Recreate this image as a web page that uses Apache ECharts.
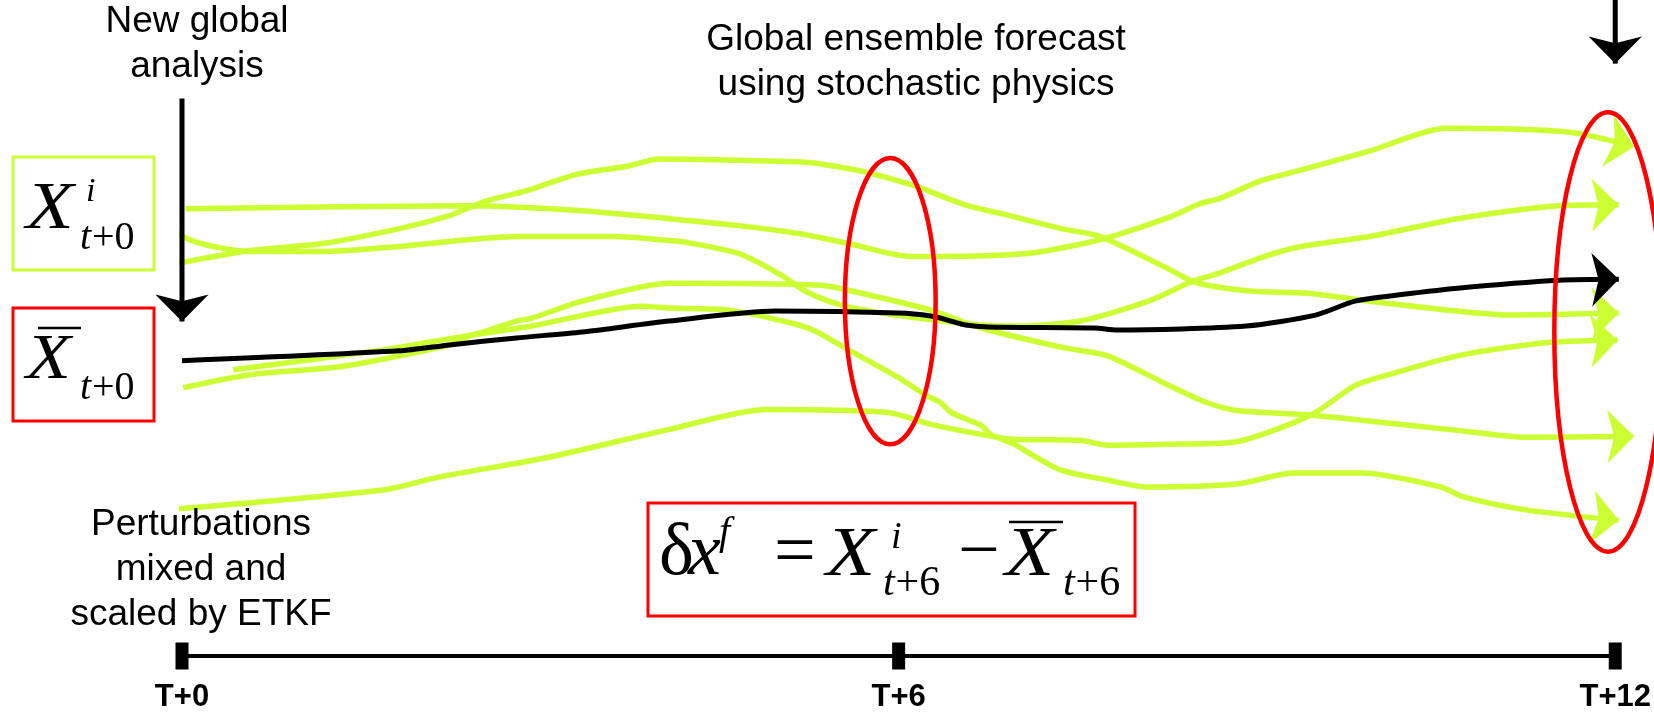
<!DOCTYPE html>
<html>
<head>
<meta charset="utf-8">
<script src="https://cdn.jsdelivr.net/npm/echarts@6/dist/echarts.min.js"></script>
<style>html,body{margin:0;padding:0;background:#fff;}#c{width:1654px;height:713px;}</style>
</head>
<body>
<div id="c"></div>
<script>
// ---- data: forecast hour (x) and arbitrary state value (y) ----
const tickHours = [0, 6, 12];
const tickLabels = ['T+0', 'T+6', 'T+12'];

const ensembleMean = [[0,47.4],[1.82,49.4],[2.24,50.6],[2.80,52.0],[3.35,53.2],[4.08,55.4],[4.97,57.4],[6.00,57.0],[6.27,56.4],[6.41,55.6],[6.56,54.6],[6.75,54.2],[7.64,54.0],[7.83,53.6],[8.91,54.4],[9.49,56.6],[9.82,59.4],[10.10,60.4],[10.68,62.0],[11.53,63.6],[12.03,63.8]];

const member1 = [[0.03,78],[2.41,78.6],[3.35,77.6],[4.08,76],[4.66,74.6],[5.16,73],[5.58,71],[6.10,68.4],[6.35,68.4],[7.08,69],[7.47,70.6],[7.81,72.6],[8.28,76.4],[8.52,79],[8.68,80],[9.03,83.6],[9.31,85.4],[9.94,89.6],[10.59,94.2],[11.62,93.4],[12.16,90.5]];

const member2 = [[-0.13,74.6],[0.04,72],[0.26,70.4],[0.57,69.4],[1.18,69.4],[1.82,70.4],[2.80,72.4],[3.63,72.4],[4.08,71.6],[4.18,71.4],[4.66,69],[5.02,64.6],[5.22,61.4],[5.52,58.6],[5.86,57],[6.30,55.6],[6.69,54.6],[6.97,54.4],[7.52,55.4],[8.09,59.4],[8.46,63.4],[8.68,65],[9.09,68.6],[9.37,70.4],[9.94,72.4],[10.68,76],[11.53,78.6],[12.03,78.8]];

const member3 = [[-0.13,66.6],[0.57,69.6],[1.18,71],[1.82,74],[2.24,76.6],[2.38,78],[2.55,79.6],[2.88,81.6],[3.32,85],[3.74,86.6],[3.99,88],[5.19,87.4],[5.35,87],[5.72,85.4],[6.14,82.6],[6.27,81.4],[6.58,78.6],[6.86,77],[7.36,74],[7.69,72.4],[8.25,66],[8.46,63.4],[8.63,62.4],[8.97,61.4],[9.43,61],[9.88,59.6],[10.68,57.4],[11.11,56.6],[12.03,57]];

const member4 = [[0.43,45.6],[1.68,49.6],[2.38,52.4],[2.93,54.4],[3.85,58.4],[4.08,58],[4.58,57.6],[5.10,55],[5.30,53.4],[5.58,49.6],[6.00,44],[6.22,40.6],[6.35,39],[6.44,37],[6.69,34.4],[6.77,32.6],[6.97,30.6],[7.08,29],[7.36,25.4],[7.75,23.4],[8.09,22],[8.83,22.6],[9.31,24.8],[9.88,24.8],[10.54,22],[10.73,20],[11.25,17.4],[12.03,15.3]];

const member5 = [[0.01,42],[0.57,44.6],[1.32,46.2],[1.82,48.4],[2.24,50.6],[2.41,52.4],[2.55,53.4],[2.80,55.4],[2.93,56],[3.35,59.4],[4.08,63],[5.35,62.6],[5.58,61.6],[6.27,57.6],[6.69,54],[7.39,50],[7.75,48.4],[8.25,42.6],[8.58,39],[8.83,37.4],[9.39,36.6],[9.82,35.6],[10.68,33.4],[11.25,32],[12.16,32.2]];

const member6 = [[-0.13,17.4],[1.68,21.4],[2.15,24],[3.07,28],[4.08,33.6],[4.89,37.6],[5.91,37],[6.27,34.6],[6.69,32.6],[6.97,31.6],[7.52,31.4],[7.75,30.4],[8.25,30.6],[8.80,31],[9.14,33.4],[9.49,37],[9.82,42.4],[10.10,44.6],[10.68,48.4],[11.39,51],[12.02,51.6]];

const analysisArrow = [[0,100.2],[0,55.3]];
const nextAnalysisArrow = [[12,121],[12,107.2]];

const ellipseCenters = [[5.93,59.4],[11.94,53.2]];
const ellipseRadii = [[0.38,28.8],[0.45,44.2]];

// ---- layout ----
const W = 1654, H = 713;
const gridLeft = 182, gridRight = 35, gridTop = 0, gridBottom = 53;
const xMin = 0, xMax = 12, yMin = -12, yMax = 120;
const pxPerX = (W - gridLeft - gridRight) / (xMax - xMin);
const pxPerY = (H - gridTop - gridBottom) / (yMax - yMin);

const GREEN = '#ccff33', RED = '#ff0000', BLACK = '#000000';

function arrowRotate(data) {
  const a = data[data.length - 2], b = data[data.length - 1];
  const ang = Math.atan2((b[1] - a[1]) * pxPerY, (b[0] - a[0]) * pxPerX) * 180 / Math.PI;
  return ang - 90;
}

function arrowSeries(data, color, z, smooth, width) {
  const last = data.length - 1;
  const rot = arrowRotate(data);
  return {
    type: 'line', data: data, smooth: smooth, clip: false, z: z,
    animation: false, silent: true,
    lineStyle: { color: color, width: width },
    itemStyle: { color: color, opacity: 1 },
    showSymbol: true, showAllSymbol: true,
    symbol: function (v, p) { return p.dataIndex === last ? 'arrow' : 'none'; },
    symbolSize: [40, 27],
    symbolRotate: rot
  };
}

const SANS = '"Liberation Sans", Arial, sans-serif';
const SERIF = '"Liberation Serif", "Times New Roman", serif';

function txt(str, x, baseline, size, opts) {
  opts = opts || {};
  const family = opts.family || SANS;
  const style = opts.italic ? 'italic ' : '';
  const weight = opts.bold ? 'bold ' : '';
  const k = family === SANS ? 0.3465 : 0.3375;
  return {
    type: 'text', x: x, y: baseline - k * size, silent: true, z: 20,
    scaleX: opts.scaleX || 1,
    style: {
      text: str, fill: '#000',
      font: style + weight + size + 'px ' + family,
      align: opts.align || 'left', textAlign: opts.align || 'left',
      verticalAlign: 'middle', textVerticalAlign: 'middle'
    }
  };
}
function sub(x, baseline, size, digits) {
  // italic t followed by upright "+digit"
  return [
    txt('t', x, baseline, size, { family: SERIF, italic: true }),
    txt('+' + digits, x + size * 0.3, baseline, size, { family: SERIF })
  ];
}
function box(x, y, w, h, color) {
  return { type: 'rect', z: 15, silent: true, shape: { x: x, y: y, width: w, height: h }, style: { fill: '#fff', stroke: color, lineWidth: 3 } };
}
function bar(x1, x2, y) {
  return { type: 'line', z: 20, silent: true, shape: { x1: x1, y1: y, x2: x2, y2: y }, style: { stroke: '#000', lineWidth: 2.5 } };
}

const graphics = [
  // labels
  txt('New global', 197, 35, 37, { align: 'center' }),
  txt('analysis', 197, 80, 37, { align: 'center' }),
  txt('Global ensemble forecast', 916, 53, 37, { align: 'center' }),
  txt('using stochastic physics', 916, 98, 37, { align: 'center' }),
  txt('Perturbations', 201, 538, 37, { align: 'center' }),
  txt('mixed and', 201, 583, 37, { align: 'center' }),
  txt('scaled by ETKF', 201, 628, 37, { align: 'center' }),
  // member box
  box(13, 157, 141, 113, GREEN),
  txt('X', 26, 233, 68, { family: SERIF, italic: true, scaleX: 1.15 }),
  txt('i', 86, 204, 34, { family: SERIF, italic: true }),
  ...sub(80, 252, 40, '0'),
  // mean box
  box(13, 308, 141, 113, RED),
  bar(38, 81, 328),
  txt('X', 26, 383, 64, { family: SERIF, italic: true, scaleX: 1.15 }),
  ...sub(80, 402, 40, '0'),
  // formula box
  box(648, 503, 487, 113, RED),
  txt('\u03b4', 659, 580, 74, { family: SERIF }),
  txt('x', 688, 580, 74, { family: SERIF, italic: true }),
  txt('f', 719, 547, 40, { family: SERIF, italic: true }),
  txt('=', 774, 580, 74, { family: SERIF }),
  txt('X', 826, 580, 70, { family: SERIF, italic: true, scaleX: 1.15 }),
  txt('i', 891, 551, 38, { family: SERIF, italic: true }),
  ...sub(883, 598, 42, '6'),
  txt('\u2212', 958, 580, 74, { family: SERIF }),
  bar(1009, 1063, 522),
  txt('X', 1005, 580, 70, { family: SERIF, italic: true, scaleX: 1.15 }),
  ...sub(1063, 598, 42, '6')
];

const chart = echarts.init(document.getElementById('c'), null, { renderer: 'canvas', width: W, height: H });

chart.setOption({
  animation: false,
  backgroundColor: '#ffffff',
  grid: { left: gridLeft, right: gridRight, top: gridTop, bottom: gridBottom, containLabel: false },
  xAxis: {
    type: 'value', min: xMin, max: xMax, interval: 6,
    axisLine: { show: true, onZero: false, lineStyle: { color: BLACK, width: 4 } },
    axisTick: { show: false }, splitLine: { show: false },
    axisLabel: {
      color: BLACK, fontWeight: 'bold', fontSize: 31, fontFamily: SANS, margin: 26,
      formatter: function (v) { const i = tickHours.indexOf(v); return i >= 0 ? tickLabels[i] : ''; }
    }
  },
  yAxis: { type: 'value', min: yMin, max: yMax, show: false, splitLine: { show: false } },
  series: [
    arrowSeries(member1, GREEN, 2, 0.25, 5.5),
    arrowSeries(member2, GREEN, 2, 0.25, 5.5),
    arrowSeries(member3, GREEN, 2, 0.25, 5.5),
    arrowSeries(member4, GREEN, 2, 0.25, 5.5),
    arrowSeries(member5, GREEN, 2, 0.25, 5.5),
    arrowSeries(member6, GREEN, 2, 0.25, 5.5),
    arrowSeries(ensembleMean, BLACK, 4, 0.25, 5),
    arrowSeries(analysisArrow, BLACK, 4, false, 5),
    arrowSeries(nextAnalysisArrow, BLACK, 4, false, 5),
    {
      type: 'scatter', data: tickHours.map(function (h) { return [h, yMin]; }), clip: false, z: 6,
      symbol: 'rect', symbolSize: [13, 27], itemStyle: { color: BLACK, opacity: 1 }, silent: true
    },
    {
      type: 'custom', coordinateSystem: 'cartesian2d', clip: false, z: 8, silent: true,
      data: ellipseCenters.map(function (c, i) { return [c[0], c[1], ellipseRadii[i][0], ellipseRadii[i][1]]; }),
      encode: { x: 0, y: 1 },
      renderItem: function (params, api) {
        const c = api.coord([api.value(0), api.value(1)]);
        const s = api.size([api.value(2), api.value(3)]);
        return { type: 'ellipse', shape: { cx: c[0], cy: c[1], rx: s[0], ry: s[1] },
                 style: { fill: 'none', stroke: RED, lineWidth: 4.5 } };
      }
    }
  ],
  graphic: graphics
});
</script>
</body>
</html>
